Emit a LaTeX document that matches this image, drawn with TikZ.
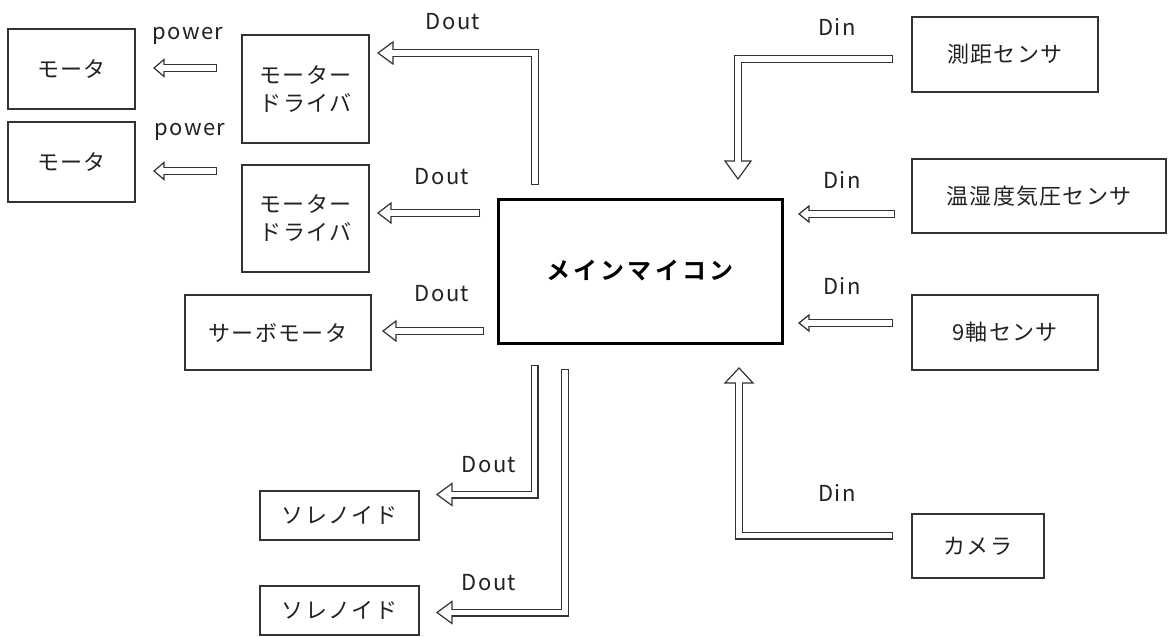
\documentclass[tikz,border=0pt]{standalone}
\usepackage{fontspec}
\setmainfont{Noto Sans CJK JP}[BoldFont={Noto Sans CJK JP Bold}, LetterSpace=6]
\usetikzlibrary{calc}
\definecolor{linec}{HTML}{333333}
\definecolor{txtc}{HTML}{222222}

% hollow arrows: #1 path from tail up to before base, #2 tip coordinate, #3 head width, #4 head length
\newcommand\arrL[4]{%
  \draw[ahead] (#2) -- ++(#4,-#3/2) -- ++(0,#3) -- cycle;
  \draw[aout] #1 -- ($(#2)+(#4,0)$);
  \draw[ain]  #1 -- ($(#2)+(#4,0)$);
}
\newcommand\arrD[4]{%
  \draw[ahead] (#2) -- ++(-#3/2,-#4) -- ++(#3,0) -- cycle;
  \draw[aout] #1 -- ($(#2)+(0,-#4)$);
  \draw[ain]  #1 -- ($(#2)+(0,-#4)$);
}
\newcommand\arrU[4]{%
  \draw[ahead] (#2) -- ++(-#3/2,#4) -- ++(#3,0) -- cycle;
  \draw[aout] #1 -- ($(#2)+(0,#4)$);
  \draw[ain]  #1 -- ($(#2)+(0,#4)$);
}

\begin{document}
\begin{tikzpicture}[x=1pt,y=-1pt,
  box/.style={draw=linec, line width=1.3pt, rectangle, inner sep=0pt, text=txtc,
    font=\fontsize{22}{28}\selectfont, align=center},
  mainbox/.style={draw=black, line width=3pt, rectangle, inner sep=0pt, text=black,
    font=\fontsize{24}{28}\selectfont\bfseries\addfontfeatures{LetterSpace=13}},
  lbl/.style={text=txtc, font=\fontsize{22}{28}\selectfont, inner sep=0pt},
  aout/.style={draw=linec, line width=8pt, line join=miter},
  ain/.style={draw=white, line width=5.6pt, line join=miter, shorten <=1.2pt, shorten >=-1.5pt},
  ahead/.style={draw=linec, fill=white, line width=1.2pt, line join=miter}]
\fill[white] (0,0) rectangle (1168,637);
\useasboundingbox (0,0) rectangle (1168,637);

% boxes
\node[box, minimum width=127pt, minimum height=80pt] (mot1) at (71.5,69) {モータ};
\node[box, minimum width=127pt, minimum height=80pt] (mot2) at (71.5,162) {モータ};
\node[box, minimum width=127pt, minimum height=108pt] (drv1) at (305.5,89) {モーター\\ドライバ};
\node[box, minimum width=127pt, minimum height=107pt] (drv2) at (305.5,218.5) {モーター\\ドライバ};
\node[box, minimum width=186pt, minimum height=75pt] (servo) at (278,332.5) {サーボモータ};
\node[mainbox, minimum width=284pt, minimum height=144pt] (main) at (640,271) {メインマイコン};
\node[box, minimum width=159pt, minimum height=49pt] (sol1) at (339.5,515.5) {ソレノイド};
\node[box, minimum width=159pt, minimum height=49pt] (sol2) at (339.5,610.5) {ソレノイド};
\node[box, minimum width=186pt, minimum height=75pt] (dist) at (1005,54.5) {測距センサ};
\node[box, minimum width=254pt, minimum height=74pt] (env) at (1039,196) {温湿度気圧センサ};
\node[box, minimum width=186pt, minimum height=75pt] (imu) at (1005,332.5) {9軸センサ};
\node[box, minimum width=132pt, minimum height=64pt] (cam) at (978,546) {カメラ};

% connector end points
\coordinate (p1a) at (217,68);   \coordinate (p1t) at (154,68);
\coordinate (p2a) at (217,171);  \coordinate (p2t) at (154,171);
\coordinate (d1a) at (535,185);  \coordinate (d1b) at (535,53);  \coordinate (d1t) at (378,53);
\coordinate (d2a) at (480,213);  \coordinate (d2t) at (378,213);
\coordinate (d3a) at (484,331);  \coordinate (d3t) at (383,331);
\coordinate (d4a) at (534.5,365); \coordinate (d4b) at (534.5,494.5); \coordinate (d4t) at (437,494.5);
\coordinate (d5a) at (565,369);  \coordinate (d5b) at (565,612.5); \coordinate (d5t) at (437,612.5);
\coordinate (i1a) at (893,59);   \coordinate (i1b) at (738,59);  \coordinate (i1t) at (738,179);
\coordinate (i2a) at (895,214);  \coordinate (i2t) at (799,214);
\coordinate (i3a) at (893,323);  \coordinate (i3t) at (799,323);
\coordinate (i4a) at (893,535.5); \coordinate (i4b) at (739,535.5); \coordinate (i4t) at (739,368);

% arrows
\arrL{(p1a)}{p1t}{17}{10}
\arrL{(p2a)}{p2t}{17}{10}
\arrL{(d1a) -- (d1b)}{d1t}{22}{15}
\arrL{(d2a)}{d2t}{20}{13}
\arrL{(d3a)}{d3t}{20}{13}
\arrL{(d4a) -- (d4b)}{d4t}{22}{15}
\arrL{(d5a) -- (d5b)}{d5t}{22}{15}
\arrD{(i1a) -- (i1b)}{i1t}{26}{18}
\arrL{(i2a)}{i2t}{16}{10}
\arrL{(i3a)}{i3t}{16}{10}
\arrU{(i4a) -- (i4b)}{i4t}{28}{15}

% labels
\node[lbl] (lp1) at (188,36) {power};
\node[lbl] (lp2) at (190,132) {power};
\node[lbl] (ld1) at (453,22) {Dout};
\node[lbl] (ld2) at (442,177) {Dout};
\node[lbl] (ld3) at (442,294) {Dout};
\node[lbl] (ld4) at (489,465) {Dout};
\node[lbl] (ld5) at (489,583) {Dout};
\node[lbl] (li1) at (837,27) {Din};
\node[lbl] (li2) at (842,180) {Din};
\node[lbl] (li3) at (842,286) {Din};
\node[lbl] (li4) at (837,493) {Din};
\end{tikzpicture}
\end{document}
